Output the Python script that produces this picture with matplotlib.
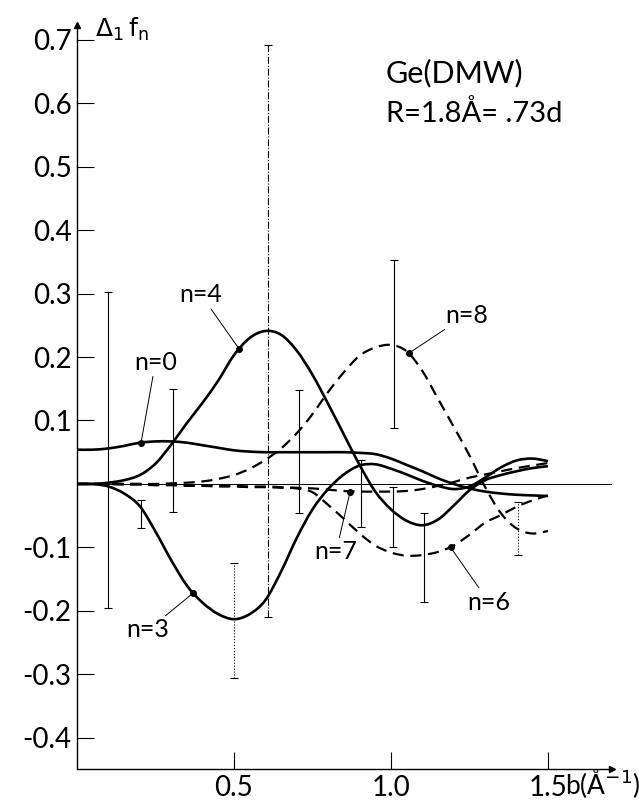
import matplotlib
matplotlib.use("Agg")
import matplotlib.pyplot as plt
from matplotlib.path import Path
from matplotlib.patches import PathPatch

plt.rcParams['font.family'] = ['Lato', 'DejaVu Sans']
plt.rcParams['mathtext.fontset'] = 'dejavusans'

# curves: b (1/A) and Delta_1 f_n
b = [0.00, 0.05, 0.10, 0.15, 0.20, 0.25, 0.30, 0.35, 0.40, 0.45, 0.50,
     0.55, 0.60, 0.65, 0.70, 0.75, 0.80, 0.85, 0.90, 0.95, 1.00, 1.05,
     1.10, 1.15, 1.20, 1.25, 1.30, 1.35, 1.40, 1.45, 1.50]

f0 = [0.054, 0.054, 0.056, 0.060, 0.065, 0.067, 0.067, 0.065, 0.061, 0.057, 0.053,
      0.051, 0.050, 0.050, 0.050, 0.050, 0.050, 0.050, 0.049, 0.047, 0.040, 0.030,
      0.020, 0.009, 0.000, -0.007, -0.012, -0.015, -0.017, -0.018, -0.019]

f4 = [0.000, 0.000, 0.002, 0.006, 0.014, 0.032, 0.062, 0.096, 0.128, 0.163, 0.203,
      0.230, 0.241, 0.235, 0.210, 0.172, 0.126, 0.078, 0.030, -0.012, -0.040, -0.058,
      -0.065, -0.056, -0.034, -0.010, 0.006, 0.014, 0.020, 0.025, 0.028]

f3 = [0.000, 0.000, -0.004, -0.015, -0.035, -0.075, -0.120, -0.160, -0.187, -0.205, -0.213,
      -0.205, -0.183, -0.138, -0.085, -0.040, -0.008, 0.015, 0.029, 0.031, 0.024, 0.015,
      0.005, -0.003, -0.008, -0.004, 0.010, 0.026, 0.037, 0.040, 0.036]

f8 = [0.000, 0.000, 0.000, 0.000, 0.000, 0.000, 0.001, 0.002, 0.004, 0.008, 0.014,
      0.024, 0.038, 0.056, 0.080, 0.110, 0.145, 0.176, 0.202, 0.215, 0.219, 0.209,
      0.178, 0.134, 0.090, 0.045, -0.005, -0.046, -0.070, -0.078, -0.074]

f6 = [0.000, 0.000, 0.000, -0.001, -0.001, -0.002, -0.002, -0.003, -0.003, -0.004, -0.004,
      -0.005, -0.005, -0.006, -0.007, -0.013, -0.033, -0.055, -0.078, -0.097, -0.108, -0.113,
      -0.112, -0.107, -0.097, -0.080, -0.061, -0.049, -0.036, -0.026, -0.018]

f7 = [0.000, 0.000, 0.000, 0.000, 0.000, -0.001, -0.001, -0.002, -0.002, -0.003, -0.003,
      -0.004, -0.004, -0.005, -0.006, -0.007, -0.009, -0.011, -0.012, -0.012, -0.012, -0.011,
      -0.008, -0.003, 0.003, 0.010, 0.015, 0.020, 0.025, 0.029, 0.033]

# error bars: position, lower end, upper end
err_b = [0.100, 0.204, 0.305, 0.500, 0.607, 0.707, 0.905, 1.010, 1.005, 1.105, 1.405]
err_lo = [-0.195, -0.070, -0.044, -0.306, -0.210, -0.046, -0.068, 0.088, -0.100, -0.186, -0.112]
err_hi = [0.302, -0.025, 0.150, -0.125, 0.691, 0.148, 0.038, 0.353, -0.005, -0.046, -0.028]
err_style = ['-', '-', '-', ':', '-.', '-', '-', '-', '-', '-', ':']

# curve labels: text, point on curve, text place
lab_text = ['n=0', 'n=4', 'n=3', 'n=8', 'n=7', 'n=6']
lab_pt = [(0.204, 0.065), (0.516, 0.213), (0.370, -0.172),
          (1.057, 0.206), (0.870, -0.012), (1.190, -0.100)]
lab_pos = [(0.25, 0.192), (0.395, 0.298), (0.226, -0.23),
           (1.24, 0.266), (0.825, -0.107), (1.312, -0.186)]

yticks = [-0.4, -0.3, -0.2, -0.1, 0.1, 0.2, 0.3, 0.4, 0.5, 0.6, 0.7]
ylabels = ['-0.4', '-0.3', '-0.2', '-0.1', '0.1', '0.2', '0.3', '0.4', '0.5', '0.6', '0.7']
xticks = [0.5, 1.0, 1.5]
xlabels = ['0.5', '1.0', '1.5']


def smooth_path(xs, ys):
    # draw the read points as a smooth bezier curve (catmull-rom)
    pts = list(zip(xs, ys))
    verts = [pts[0]]
    codes = [Path.MOVETO]
    n = len(pts)
    for i in range(n - 1):
        p0 = pts[max(i - 1, 0)]
        p1 = pts[i]
        p2 = pts[i + 1]
        p3 = pts[min(i + 2, n - 1)]
        c1 = (p1[0] + (p2[0] - p0[0]) / 6, p1[1] + (p2[1] - p0[1]) / 6)
        c2 = (p2[0] - (p3[0] - p1[0]) / 6, p2[1] - (p3[1] - p1[1]) / 6)
        verts += [c1, c2, p2]
        codes += [Path.CURVE4] * 3
    return Path(verts, codes)


fig = plt.figure(figsize=(6.39, 8.09), dpi=100)
ax = fig.add_axes([77 / 639, 40 / 809, 535 / 639, 744 / 809])
ax.set_xlim(0, 1.704)
ax.set_ylim(-0.449, 0.723)

ax.axhline(0, color='k', lw=0.7)

for ys, ls, lw in [(f0, '-', 1.9), (f4, '-', 1.9), (f3, '-', 1.9),
                   (f8, (0, (5, 3)), 1.6), (f6, (0, (5, 3)), 1.6), (f7, (0, (5, 3)), 1.6)]:
    ax.add_patch(PathPatch(smooth_path(b, ys), fill=False, edgecolor='k',
                           lw=lw, linestyle=ls, capstyle='butt'))

for xb, lo, hi, ls in zip(err_b, err_lo, err_hi, err_style):
    eb = ax.errorbar([xb], [(lo + hi) / 2], yerr=[(hi - lo) / 2], fmt='none',
                     ecolor='k', elinewidth=0.8, capsize=3, capthick=0.8)
    eb[2][0].set_linestyle(ls)

for t, p, q in zip(lab_text, lab_pt, lab_pos):
    ax.plot(*p, 'o', color='k', ms=4)
    ax.annotate(t, xy=p, xytext=q, ha='center', va='center', fontsize=18,
                arrowprops=dict(arrowstyle='-', lw=0.7, color='k',
                                shrinkA=0, shrinkB=0))

ax.text(0.984, 0.647, 'Ge(DMW)', fontsize=22, va='center')
ax.text(0.984, 0.584, 'R=1.8Å= .73d', fontsize=21, va='center')
ax.text(0.058, 0.716, r'$\Delta_1\,\mathrm{f}_\mathrm{n}$', fontsize=18, va='center')
ax.text(1.553, -0.489, 'b(Å$^{-1}$)', fontsize=19, va='baseline', clip_on=False)

for s in ['top', 'right']:
    ax.spines[s].set_visible(False)
ax.spines['left'].set_linewidth(1.0)
ax.spines['bottom'].set_linewidth(1.0)
ax.plot(0, 1, '^k', ms=5, transform=ax.transAxes, clip_on=False)
ax.plot(1, 0, '>k', ms=5, transform=ax.transAxes, clip_on=False)

ax.set_yticks(yticks)
ax.set_yticklabels(ylabels)
ax.set_xticks(xticks)
ax.set_xticklabels(xlabels)
ax.tick_params(direction='in', length=12, width=0.8, labelsize=20, pad=4)

fig.savefig('out.png', dpi=100)
